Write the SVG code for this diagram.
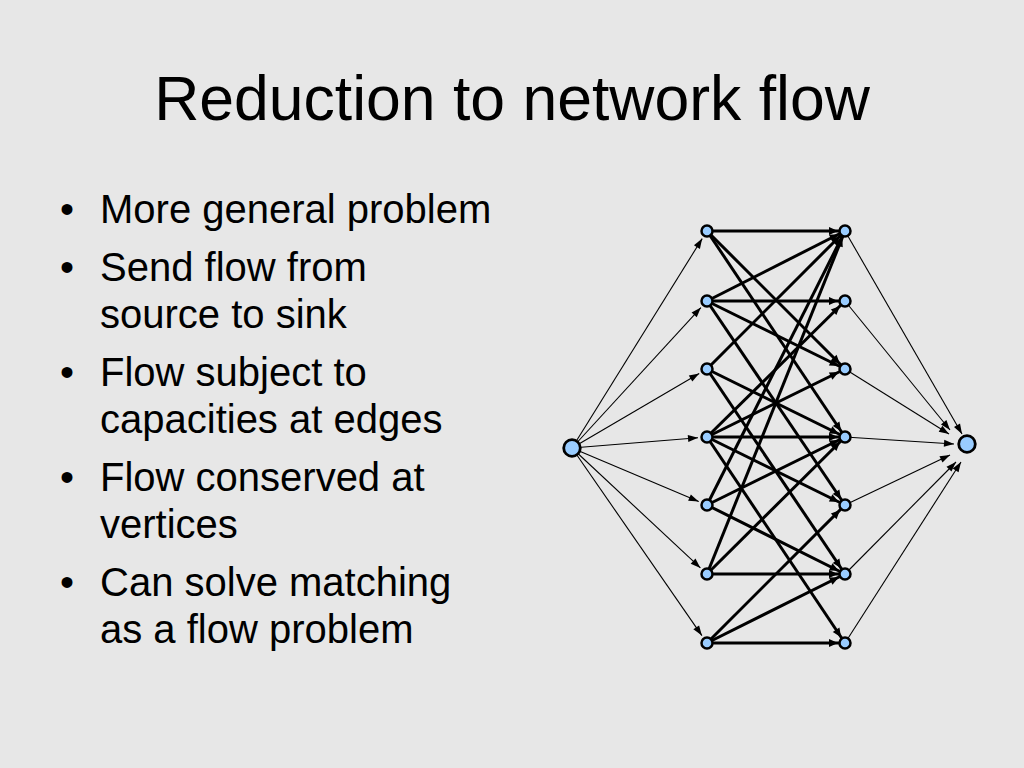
<svg xmlns="http://www.w3.org/2000/svg" width="1024" height="768" viewBox="0 0 1024 768">
<style>
.title{font-family:"Liberation Sans",Arial,sans-serif;font-size:62.5px;fill:#000;text-anchor:middle}
.txt{font-family:"Liberation Sans",Arial,sans-serif;font-size:40px;fill:#000}
.thick{stroke:#000;stroke-width:3;fill:none;marker-end:url(#ah)}
.thin{stroke:#000;stroke-width:1.1;fill:none;marker-end:url(#at)}
.node{fill:#99ccff;stroke:#000;stroke-width:2.5}
.big{fill:#99ccff;stroke:#000;stroke-width:2.8}
</style>
<defs>
<marker id="ah" markerUnits="userSpaceOnUse" markerWidth="16" markerHeight="8" refX="16" refY="4" orient="auto" overflow="visible">
<path d="M0,0 L9,4 L0,8 z" fill="#000"/>
</marker>
<marker id="at" markerUnits="userSpaceOnUse" markerWidth="10" markerHeight="7" refX="10" refY="3.5" orient="auto" overflow="visible">
<path d="M0,0 L10,3.5 L0,7 z" fill="#000"/>
</marker>
</defs>
<rect width="1024" height="768" fill="#e7e7e7"/>
<text class="title" x="512" y="120">Reduction to network flow</text>
<g id="bullets" class="txt">
<text x="60" y="223">•</text><text x="100" y="223">More general problem</text>
<text x="60" y="281">•</text><text x="100" y="281">Send flow from</text>
<text x="100" y="328">source to sink</text>
<text x="60" y="386">•</text><text x="100" y="386">Flow subject to</text>
<text x="100" y="433">capacities at edges</text>
<text x="60" y="491">•</text><text x="100" y="491">Flow conserved at</text>
<text x="100" y="538">vertices</text>
<text x="60" y="596">•</text><text x="100" y="596">Can solve matching</text>
<text x="100" y="643">as a flow problem</text>
</g>
<g id="connectors">
<line class="thin" x1="572" y1="448" x2="702.2" y2="238.6"/>
<line class="thin" x1="572" y1="448" x2="700.9" y2="307.6"/>
<line class="thin" x1="572" y1="448" x2="699.2" y2="373.5"/>
<line class="thin" x1="572" y1="448" x2="698" y2="437.7"/>
<line class="thin" x1="572" y1="448" x2="698.7" y2="501.5"/>
<line class="thin" x1="572" y1="448" x2="700.4" y2="567.9"/>
<line class="thin" x1="572" y1="448" x2="701.9" y2="635.6"/>
<line class="thin" x1="845" y1="231" x2="962" y2="434"/>
<line class="thin" x1="845" y1="301" x2="950" y2="430"/>
<line class="thin" x1="845" y1="369" x2="949" y2="434"/>
<line class="thin" x1="845" y1="437" x2="954" y2="444"/>
<line class="thin" x1="845" y1="505" x2="950" y2="455"/>
<line class="thin" x1="845" y1="574" x2="956" y2="462"/>
<line class="thin" x1="845" y1="643" x2="961" y2="462"/>
<line class="thick" x1="707" y1="231" x2="845" y2="231"/>
<line class="thick" x1="707" y1="231" x2="845" y2="369"/>
<line class="thick" x1="707" y1="231" x2="845" y2="437"/>
<line class="thick" x1="707" y1="301" x2="845" y2="231"/>
<line class="thick" x1="707" y1="301" x2="845" y2="301"/>
<line class="thick" x1="707" y1="301" x2="845" y2="369"/>
<line class="thick" x1="707" y1="301" x2="845" y2="505"/>
<line class="thick" x1="707" y1="369" x2="845" y2="231"/>
<line class="thick" x1="707" y1="369" x2="845" y2="437"/>
<line class="thick" x1="707" y1="369" x2="845" y2="574"/>
<line class="thick" x1="707" y1="437" x2="845" y2="301"/>
<line class="thick" x1="707" y1="437" x2="845" y2="369"/>
<line class="thick" x1="707" y1="437" x2="845" y2="437"/>
<line class="thick" x1="707" y1="437" x2="845" y2="505"/>
<line class="thick" x1="707" y1="437" x2="845" y2="643"/>
<line class="thick" x1="707" y1="505" x2="845" y2="231"/>
<line class="thick" x1="707" y1="505" x2="845" y2="437"/>
<line class="thick" x1="707" y1="505" x2="845" y2="574"/>
<line class="thick" x1="707" y1="574" x2="845" y2="231"/>
<line class="thick" x1="707" y1="574" x2="845" y2="437"/>
<line class="thick" x1="707" y1="574" x2="845" y2="574"/>
<line class="thick" x1="707" y1="643" x2="845" y2="505"/>
<line class="thick" x1="707" y1="643" x2="845" y2="574"/>
<line class="thick" x1="707" y1="643" x2="845" y2="643"/>
</g>
<g id="source"><circle class="big" cx="572" cy="448" r="8.3"/></g>
<g id="sink"><circle class="big" cx="967" cy="444" r="8.3"/></g>
<g id="L1"><circle class="node" cx="707" cy="231" r="5.5"/></g>
<g id="L2"><circle class="node" cx="707" cy="301" r="5.5"/></g>
<g id="L3"><circle class="node" cx="707" cy="369" r="5.5"/></g>
<g id="L4"><circle class="node" cx="707" cy="437" r="5.5"/></g>
<g id="L5"><circle class="node" cx="707" cy="505" r="5.5"/></g>
<g id="L6"><circle class="node" cx="707" cy="574" r="5.5"/></g>
<g id="L7"><circle class="node" cx="707" cy="643" r="5.5"/></g>
<g id="R1"><circle class="node" cx="845" cy="231" r="5.5"/></g>
<g id="R2"><circle class="node" cx="845" cy="301" r="5.5"/></g>
<g id="R3"><circle class="node" cx="845" cy="369" r="5.5"/></g>
<g id="R4"><circle class="node" cx="845" cy="437" r="5.5"/></g>
<g id="R5"><circle class="node" cx="845" cy="505" r="5.5"/></g>
<g id="R6"><circle class="node" cx="845" cy="574" r="5.5"/></g>
<g id="R7"><circle class="node" cx="845" cy="643" r="5.5"/></g>
</svg>
